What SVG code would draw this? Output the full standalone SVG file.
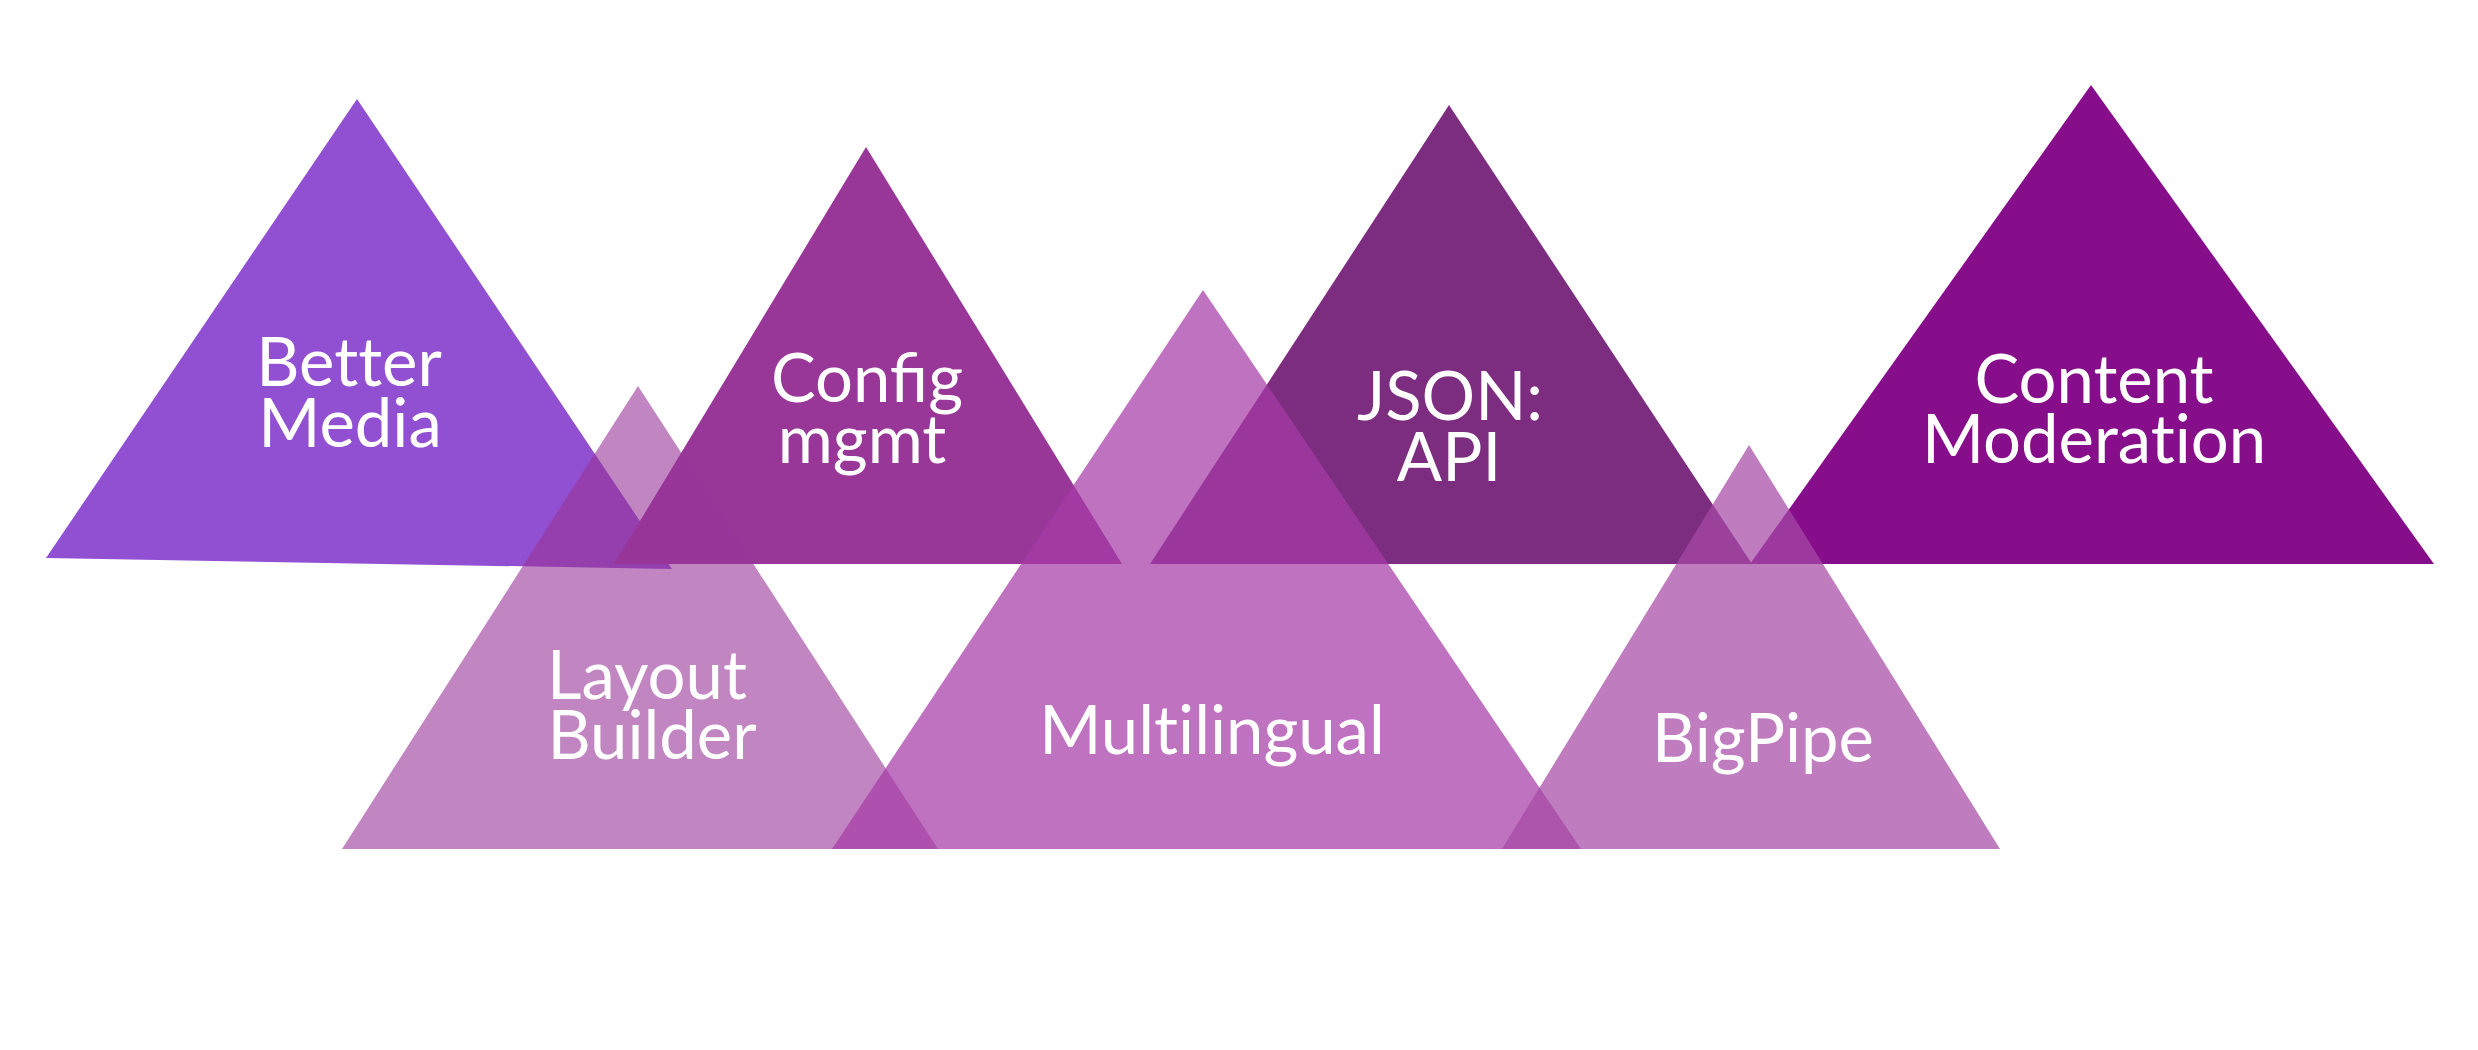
<svg xmlns="http://www.w3.org/2000/svg" width="2478" height="1050" viewBox="0 0 2478 1050">
<style>
  .lbl { font-family: Lato, "Open Sans", "Liberation Sans", sans-serif; font-size: 67px; fill: #ffffff; text-anchor: middle; font-variant-ligatures: no-common-ligatures; }
  .lig { font-variant-ligatures: common-ligatures; }
  .lower { opacity: 0.72; }
</style>
<rect x="0" y="0" width="2478" height="1050" fill="#ffffff"/>
<g id="connectors"/>
<g id="better-media">
  <polygon points="357,99 46,558 672,569" fill="#9150D2"/>
  <text class="lbl"><tspan x="349" y="386">Better</tspan><tspan x="350" y="447">Media</tspan></text>
</g>
<g id="config-mgmt">
  <polygon points="866,147 614,564 1122,564" fill="#993799"/>
  <text class="lbl lig"><tspan x="867" y="402">Config</tspan><tspan x="862" y="463">mgmt</tspan></text>
</g>
<g id="json-api">
  <polygon points="1449,105 1150,564 1752,564" fill="#7D2D80"/>
  <text class="lbl"><tspan x="1450" y="420">JSON:</tspan><tspan x="1449" y="481">API</tspan></text>
</g>
<g id="content-moderation">
  <polygon points="2091,85 1750,564 2434,564" fill="#870E8A"/>
  <text class="lbl"><tspan x="2094" y="403">Content</tspan><tspan x="2094" y="463">Moderation</tspan></text>
</g>
<g id="layout-builder">
  <polygon points="638,386 342,849 938,849" fill="#983498" opacity="0.6"/>
  <text class="lbl"><tspan x="647" y="699">Layout</tspan><tspan x="652" y="759">Builder</tspan></text>
</g>
<g id="multilingual">
  <polygon class="lower" points="1203,290 832,849 1581,849" fill="#A63BA6"/>
  <text class="lbl" x="1212" y="754">Multilingual</text>
</g>
<g id="bigpipe">
  <polygon class="lower" points="1749,445 1502,849 2000,849" fill="#A64AA6"/>
  <text class="lbl" x="1763" y="762">BigPipe</text>
</g>
</svg>
